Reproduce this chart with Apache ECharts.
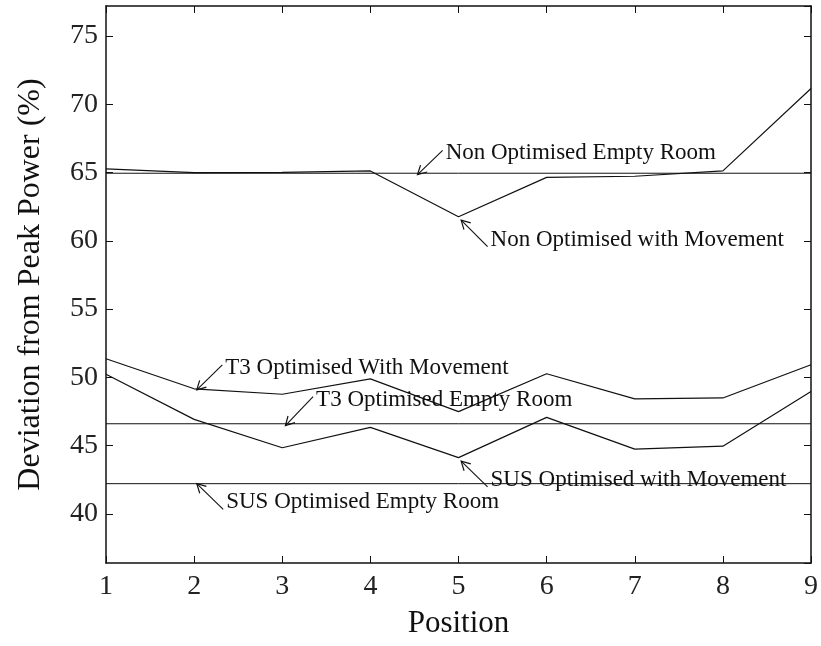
<!DOCTYPE html>
<html>
<head>
<meta charset="utf-8">
<script src="https://cdn.jsdelivr.net/npm/echarts@6/dist/echarts.min.js"></script>
<style>
  html, body { margin: 0; padding: 0; background: #fff; }
  #chart { width: 821px; height: 646px; }
</style>
</head>
<body>
<div id="chart"></div>
<script>
// positions 1..9
const positions = [1, 2, 3, 4, 5, 6, 7, 8, 9];

// measured series (%)
const nonOptMovement = [65.27, 65.0, 65.02, 65.12, 61.76, 64.65, 64.73, 65.12, 71.16];
const t3OptMovement = [51.36, 49.16, 48.76, 49.89, 47.49, 50.26, 48.42, 48.49, 50.92];
const susOptMovement = [50.23, 46.92, 44.84, 46.33, 44.12, 47.07, 44.74, 44.96, 48.96];

// empty room reference levels (%)
const nonOptEmpty = 64.95;
const t3OptEmpty = 46.6;
const susOptEmpty = 42.21;

// annotations: label, arrow tip [x, y], arrow tail [x, y]
const noteLabels = [
  'Non Optimised Empty Room',
  'Non Optimised with Movement',
  'T3 Optimised With Movement',
  'T3 Optimised Empty Room',
  'SUS Optimised Empty Room',
  'SUS Optimised with Movement'
];
const noteTips = [[4.535, 64.85], [5.03, 61.52], [2.03, 49.08], [3.036, 46.46], [2.03, 42.21], [5.03, 43.86]];
const noteTails = [[4.82, 66.62], [5.33, 59.58], [2.32, 50.92], [3.35, 48.59], [2.33, 40.33], [5.33, 41.97]];

const serif = '"Liberation Serif", "DejaVu Serif", serif';

const chart = echarts.init(document.getElementById('chart'));

function pairs(vals) {
  return positions.map((p, i) => [p, vals[i]]);
}
function flat(v) {
  return [[positions[0], v], [positions[positions.length - 1], v]];
}

const mk = (data, w) => ({
  type: 'line',
  data: data,
  symbol: 'none',
  silent: true,
  lineStyle: { color: '#111', width: w || 1.2 },
  animation: false
});

chart.setOption({
  animation: false,
  grid: { left: 106, right: 9, top: 6, bottom: 83 },
  xAxis: [{
    type: 'value',
    min: 1, max: 9, interval: 1,
    name: 'Position',
    nameLocation: 'middle',
    nameGap: 45,
    nameTextStyle: { fontFamily: serif, fontSize: 31, color: '#111' },
    axisLine: { lineStyle: { color: '#111', width: 1.5 } },
    axisTick: { inside: true, length: 7, lineStyle: { color: '#111' } },
    axisLabel: { fontFamily: serif, fontSize: 28, color: '#222', margin: 10 },
    splitLine: { show: false }
  }, {
    type: 'value',
    position: 'top',
    min: 1, max: 9, interval: 1,
    axisLine: { lineStyle: { color: '#111', width: 1.5 } },
    axisTick: { inside: true, length: 7, lineStyle: { color: '#111' } },
    axisLabel: { show: false },
    splitLine: { show: false }
  }],
  yAxis: [{
    type: 'value',
    min: 36.4, max: 77.2,
    splitNumber: 8, minInterval: 5, maxInterval: 5,
    name: 'Deviation from Peak Power (%)',
    nameLocation: 'middle',
    nameGap: 59,
    nameRotate: 90,
    nameTextStyle: { fontFamily: serif, fontSize: 32, color: '#111' },
    axisLine: { show: true, lineStyle: { color: '#111', width: 1.5 } },
    axisTick: { show: true, inside: true, length: 7, lineStyle: { color: '#111' } },
    axisLabel: { fontFamily: serif, fontSize: 28, color: '#222', margin: 8, showMinLabel: false, showMaxLabel: false },
    splitLine: { show: false }
  }, {
    type: 'value',
    position: 'right',
    min: 36.4, max: 77.2,
    splitNumber: 8, minInterval: 5, maxInterval: 5,
    axisLine: { show: true, lineStyle: { color: '#111', width: 1.5 } },
    axisTick: { show: true, inside: true, length: 7, lineStyle: { color: '#111' } },
    axisLabel: { show: false },
    splitLine: { show: false }
  }],
  series: [
    mk(pairs(nonOptMovement)),
    mk(pairs(t3OptMovement)),
    mk(pairs(susOptMovement)),
    mk(flat(nonOptEmpty), 1),
    mk(flat(t3OptEmpty), 1),
    mk(flat(susOptEmpty), 1)
  ]
});

// annotation arrows and labels, placed through the axes
const graphics = [];
noteLabels.forEach((label, i) => {
  const tip = chart.convertToPixel({ gridIndex: 0 }, noteTips[i]);
  const tail = chart.convertToPixel({ gridIndex: 0 }, noteTails[i]);
  const ang = Math.atan2(tail[1] - tip[1], tail[0] - tip[0]);
  const len = 10, spread = 0.5;
  const h1 = [tip[0] + len * Math.cos(ang + spread), tip[1] + len * Math.sin(ang + spread)];
  const h2 = [tip[0] + len * Math.cos(ang - spread), tip[1] + len * Math.sin(ang - spread)];
  graphics.push({
    type: 'polyline', silent: true,
    shape: { points: [tail, tip] },
    style: { stroke: '#111', lineWidth: 1.1, fill: null }
  });
  graphics.push({
    type: 'polyline', silent: true,
    shape: { points: [h1, tip, h2] },
    style: { stroke: '#111', lineWidth: 1.2, fill: null }
  });
  const up = tail[1] < tip[1];
  graphics.push({
    type: 'text', silent: true,
    x: tail[0] + 3,
    y: up ? tail[1] + 3 : tail[1] - 7,
    style: {
      text: label,
      font: '23px ' + serif,
      fill: '#111',
      textAlign: 'left',
      textVerticalAlign: 'middle'
    }
  });
});
chart.setOption({ graphic: graphics });
</script>
</body>
</html>
